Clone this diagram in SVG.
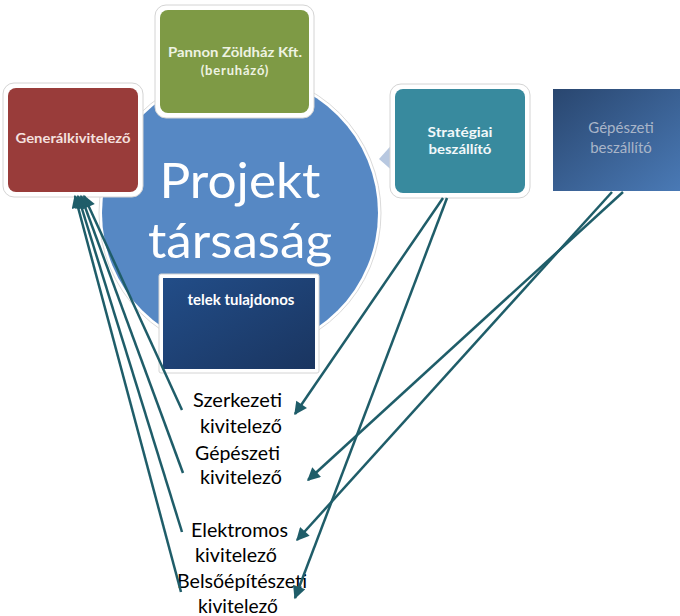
<svg xmlns="http://www.w3.org/2000/svg" width="680" height="616" viewBox="0 0 680 616">
<defs>
<style>
.frame{fill:#fff;stroke:#d4d4d4;stroke-width:1}
.lbl{font-family:Lato,"Liberation Sans",sans-serif;font-weight:bold;font-size:13px;text-anchor:middle}
.big{font-family:Lato,"Open Sans","Liberation Sans",sans-serif;font-size:48px;fill:#fff;text-anchor:middle}
.sub{font-family:Lato,"Liberation Sans",sans-serif;font-size:19px;fill:#000}
.con{stroke:#1f5d69;stroke-width:2.5;fill:none;marker-end:url(#ah)}
</style>
<marker id="ah" viewBox="0 0 10 10" refX="9" refY="5" markerUnits="userSpaceOnUse" markerWidth="15" markerHeight="13" orient="auto">
<path d="M0,0 L10,5 L0,10 z" fill="#1f5d69"/>
</marker>
<linearGradient id="gBlue" x1="0" y1="0" x2="1" y2="1">
<stop offset="0" stop-color="#29466f"/>
<stop offset="1" stop-color="#4a7ab6"/>
</linearGradient>
<linearGradient id="gTelek" x1="0" y1="0" x2="1" y2="1">
<stop offset="0" stop-color="#224d88"/>
<stop offset="1" stop-color="#1a3560"/>
</linearGradient>
</defs>
<rect width="680" height="616" fill="#fff"/>

<g id="projekt-tarsasag">
<circle cx="240" cy="213" r="141" fill="#fff" stroke="#dadada" stroke-width="1"/>
<circle cx="240" cy="213" r="138" fill="#5688c4"/>
<text class="big" x="240" y="198" textLength="161" lengthAdjust="spacingAndGlyphs">Projekt</text>
<text class="big" x="240" y="258" textLength="184" lengthAdjust="spacingAndGlyphs">társaság</text>
</g>

<g id="pointer">
<polygon points="379,159 396,140 396,174" fill="#b8c8e0"/>
</g>

<g id="pannon">
<rect class="frame" x="155" y="5" width="159" height="113" rx="11"/>
<rect x="160" y="10" width="149" height="103" rx="8" fill="#7e9a45"/>
<text class="lbl" x="235" y="57" fill="#eef3e2" textLength="134" lengthAdjust="spacingAndGlyphs">Pannon Zöldház Kft.</text>
<text class="lbl" x="235" y="75" fill="#eef3e2" letter-spacing="0.8">(beruházó)</text>
</g>

<g id="generalkivitelezo">
<rect class="frame" x="3" y="83" width="140" height="114" rx="11"/>
<rect x="8" y="88" width="130" height="104" rx="8" fill="#993c3a"/>
<text class="lbl" x="73" y="143" fill="#f4e0df" textLength="115" lengthAdjust="spacingAndGlyphs">Generálkivitelező</text>
</g>

<g id="strategiai">
<rect class="frame" x="390" y="84" width="140" height="114" rx="11"/>
<rect x="395" y="89" width="130" height="104" rx="8" fill="#388a9e"/>
<text class="lbl" x="460" y="137" fill="#f2f8fa" textLength="65" lengthAdjust="spacingAndGlyphs">Stratégiai</text>
<text class="lbl" x="460" y="154" fill="#f2f8fa" textLength="63" lengthAdjust="spacingAndGlyphs">beszállító</text>
</g>

<g id="gepeszeti-beszallito">
<rect x="553" y="89" width="130" height="102" fill="url(#gBlue)"/>
<text x="621" y="133" font-family="Lato,'Liberation Sans',sans-serif" font-size="15" fill="#a9b5c8" text-anchor="middle">Gépészeti</text>
<text x="621" y="153" font-family="Lato,'Liberation Sans',sans-serif" font-size="15" fill="#a9b5c8" text-anchor="middle">beszállító</text>
</g>

<g id="telek">
<rect class="frame" x="159" y="274" width="160" height="99" rx="2"/>
<rect x="163" y="278" width="152" height="91" fill="url(#gTelek)"/>
<text x="241" y="305" font-family="Lato,'Liberation Sans',sans-serif" font-weight="bold" font-size="15" fill="#fff" text-anchor="middle">telek tulajdonos</text>
</g>

<g id="szerkezeti">
<text class="sub" x="193" y="407" textLength="89" lengthAdjust="spacingAndGlyphs">Szerkezeti</text>
<text class="sub" x="200" y="433" textLength="82" lengthAdjust="spacingAndGlyphs">kivitelező</text>
</g>
<g id="gepeszeti-kivitelezo">
<text class="sub" x="195" y="460" textLength="85" lengthAdjust="spacingAndGlyphs">Gépészeti</text>
<text class="sub" x="200" y="484" textLength="82" lengthAdjust="spacingAndGlyphs">kivitelező</text>
</g>
<g id="elektromos">
<text class="sub" x="191" y="537" textLength="97" lengthAdjust="spacingAndGlyphs">Elektromos</text>
<text class="sub" x="195" y="562" textLength="82" lengthAdjust="spacingAndGlyphs">kivitelező</text>
</g>
<g id="belsoepiteszeti">
<text class="sub" x="177" y="588" textLength="130" lengthAdjust="spacingAndGlyphs">Belsőépítészeti</text>
<text class="sub" x="198" y="613" textLength="80" lengthAdjust="spacingAndGlyphs">kivitelező</text>
</g>

<g id="connectors">
<line class="con" x1="182" y1="410" x2="84" y2="196"/>
<line class="con" x1="183" y1="473" x2="81" y2="196"/>
<line class="con" x1="182" y1="532" x2="78" y2="196"/>
<line class="con" x1="181" y1="592" x2="75" y2="196"/>
<line class="con" x1="443" y1="198" x2="295" y2="414"/>
<line class="con" x1="447" y1="198" x2="295" y2="598"/>
<line class="con" x1="623" y1="192" x2="308" y2="480"/>
<line class="con" x1="612" y1="192" x2="297" y2="540"/>
</g>
</svg>
